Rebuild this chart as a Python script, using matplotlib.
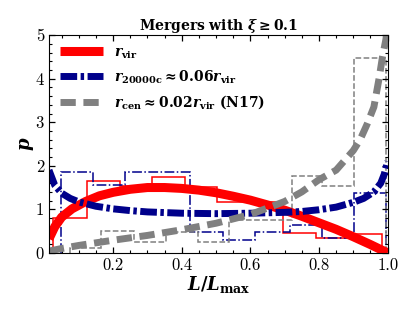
import matplotlib
matplotlib.use('Agg')
import matplotlib.pyplot as plt
from matplotlib.ticker import MultipleLocator

plt.rcParams['font.family'] = 'serif'
plt.rcParams['font.serif'] = ['cmr10', 'DejaVu Serif']
plt.rcParams['mathtext.fontset'] = 'custom'
plt.rcParams['mathtext.rm'] = 'DejaVu Serif:bold'
plt.rcParams['mathtext.it'] = 'DejaVu Serif:italic:bold'
plt.rcParams['mathtext.bf'] = 'DejaVu Serif:bold'

# histograms (step outlines)
red_edges = [0.026, 0.123, 0.219, 0.314, 0.409, 0.504, 0.599, 0.694, 0.791, 0.887, 0.984]
red_hist = [0.80, 1.65, 1.53, 1.75, 1.51, 1.16, 1.16, 0.45, 0.34, 0.44]

blue_edges = [0.048, 0.142, 0.236, 0.330, 0.425, 0.519, 0.614, 0.716, 0.810, 0.903, 0.995]
blue_hist = [1.86, 1.56, 1.86, 1.86, 0.49, 0.30, 0.49, 0.64, 0.34, 1.38]

gray_edges = [0.073, 0.166, 0.260, 0.354, 0.448, 0.537, 0.626, 0.722, 0.810, 0.903, 0.995]
gray_hist = [0.10, 0.51, 0.26, 0.49, 0.26, 0.76, 0.76, 1.77, 1.53, 4.48]

# fitted curves
red_x = [0.013, 0.03, 0.05, 0.08, 0.12, 0.16, 0.2, 0.25, 0.3, 0.35, 0.4, 0.45,
         0.5, 0.55, 0.6, 0.65, 0.7, 0.75, 0.8, 0.85, 0.9, 0.95, 1.0]
red_y = [0.32, 0.60, 0.82, 1.01, 1.18, 1.31, 1.39, 1.46, 1.50, 1.50, 1.48, 1.44,
         1.38, 1.30, 1.21, 1.10, 0.98, 0.84, 0.69, 0.54, 0.37, 0.19, 0.0]

blue_x = [0.013, 0.03, 0.05, 0.075, 0.1, 0.15, 0.2, 0.25, 0.3, 0.4, 0.5, 0.6,
          0.7, 0.75, 0.8, 0.85, 0.9, 0.93, 0.96, 0.98, 0.99, 1.0]
blue_y = [1.90, 1.55, 1.37, 1.25, 1.17, 1.07, 1.01, 0.97, 0.94, 0.91, 0.90, 0.91,
          0.93, 0.95, 0.99, 1.05, 1.16, 1.25, 1.40, 1.60, 1.80, 2.10]

gray_x = [0.013, 0.05, 0.1, 0.2, 0.3, 0.4, 0.5, 0.6, 0.7, 0.75, 0.8, 0.85,
          0.9, 0.92, 0.94, 0.96, 0.975, 0.985, 0.995, 1.0]
gray_y = [0.04, 0.10, 0.17, 0.29, 0.40, 0.53, 0.68, 0.88, 1.18, 1.40, 1.68, 1.90,
          2.35, 2.60, 2.95, 3.35, 4.00, 4.50, 4.90, 5.20]

fig = plt.figure(figsize=(4.15, 3.11), dpi=100)
ax = fig.add_axes([0.118, 0.187, 0.816, 0.700])

ax.stairs(red_hist, red_edges, color='red', lw=1.1)
ax.stairs(blue_hist, blue_edges, color='#00008b', lw=1.1, linestyle='-.')
ax.stairs(gray_hist, gray_edges, color='gray', lw=1.1, linestyle='--')

ax.plot(red_x, red_y, color='red', lw=6.5, solid_capstyle='butt',
        label=r'$r_{\rm vir}$')
ax.plot(blue_x, blue_y, color='#00008b', lw=5, linestyle=(0, (2.4, 0.5, 0.5, 0.5)),
        label=r'$r_{\rm 20000c}\approx 0.06r_{\rm vir}$')
ax.plot(gray_x, gray_y, color='gray', lw=5, linestyle=(0, (2.2, 1.1)),
        label=r'$r_{\rm cen}\approx 0.02r_{\rm vir}\ {\rm (N17)}$')

ax.set_xlim(0.013, 1.0)
ax.set_ylim(0, 5)
ax.xaxis.set_major_locator(MultipleLocator(0.2))
ax.xaxis.set_minor_locator(MultipleLocator(0.05))
ax.yaxis.set_major_locator(MultipleLocator(1))
ax.yaxis.set_minor_locator(MultipleLocator(0.2))
ax.tick_params(which='both', direction='in', top=True, right=True, labelsize=12)
ax.tick_params(which='major', length=4.5, width=0.9)
ax.tick_params(which='minor', length=2.2, width=0.8)

ax.set_xlabel(r'$L/L_{\rm max}$', fontsize=13, labelpad=1)
ax.set_ylabel(r'$p$', fontsize=13, labelpad=0)
ax.set_title(r'Mergers with $\xi\geq 0.1$', fontsize=10, fontweight='bold',
             family='DejaVu Serif', pad=4)

ax.legend(loc='upper left', frameon=False, fontsize=10, handlelength=3.1,
          handletextpad=0.8, labelspacing=0.55, borderaxespad=0.4)

fig.savefig('out.png', dpi=100)
